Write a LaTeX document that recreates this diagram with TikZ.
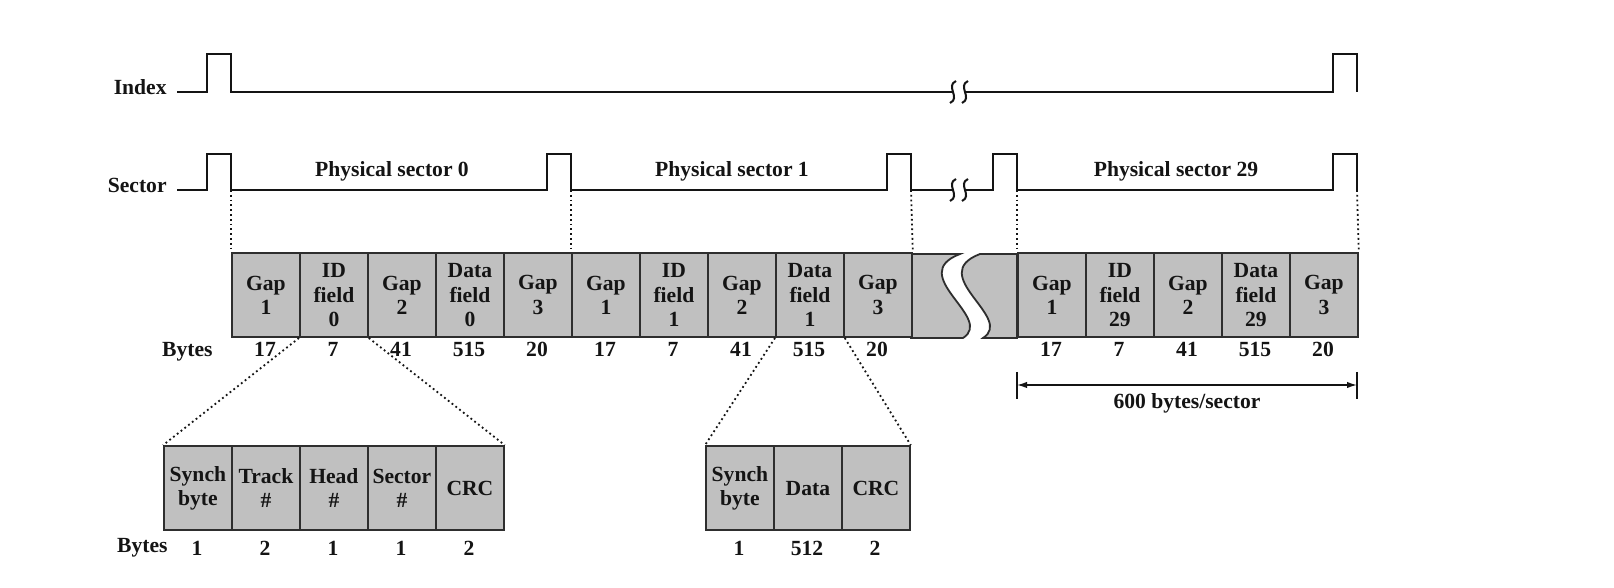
\documentclass[tikz,border=0pt]{standalone}
\usepackage{fontspec}
\setmainfont{Liberation Serif}
\usetikzlibrary{arrows.meta}
\definecolor{dkInk}{HTML}{141414}
\definecolor{dkCell}{HTML}{C0C0C0}
\definecolor{dkLine}{HTML}{2E2E2E}
\tikzset{
 diskfig/.style={font=\fontsize{10.8}{12.2}\selectfont\bfseries,line join=miter,text=dkInk},
 wave/.style={draw=dkInk,line width=1pt},
 squig/.style={draw=dkInk,line width=1pt},
 cellbox/.style={rectangle,draw=dkLine,fill=dkCell,line width=.9pt,inner sep=0pt,
   minimum width=34pt,minimum height=42pt,align=center,anchor=south west},
 breakpiece/.style={draw=dkLine,fill=dkCell,line width=.9pt},
 guide/.style={draw=dkInk,line width=.9pt,dash pattern=on .9pt off 1.5pt},
 bytenum/.style={anchor=base,inner sep=0pt},
 sigtag/.style={anchor=base east,inner sep=0pt},
 dimline/.style={draw=dkInk,line width=.7pt,{Latex[length=5pt,width=3.2pt]}-{Latex[length=5pt,width=3.2pt]}}
}
\newcommand{\squiggle}[2]{%
 \draw[squig] ({#1+3},{#2+11}) .. controls ({#1-8},{#2+6}) and ({#1+8},{#2-6}) .. ({#1-3},{#2-11});}

\begin{document}
\begin{tikzpicture}[diskfig,x=.5pt,y=.5pt]
 \useasboundingbox (0,0) rectangle (1614,588);
 \fill[white] (0,0) rectangle (1614,588);
 \node[sigtag] (idx) at (167,493) {Index};
 \node[sigtag] (sec) at (167,395) {Sector};
 \draw[wave] (177,496) -- (207,496) -- (207,534) -- (231,534) -- (231,496) -- (953,496);
 \draw[wave] (965,496) -- (1333,496) -- (1333,534) -- (1357,534) -- (1357,496);
 \squiggle{953}{496} \squiggle{965}{496}
 \draw[wave] (177,398) -- (207,398) -- (207,434) -- (231,434) -- (231,398)
   -- (547,398) -- (547,434) -- (571,434) -- (571,398)
   -- (887,398) -- (887,434) -- (911,434) -- (911,398) -- (953,398);
 \draw[wave] (965,398) -- (993,398) -- (993,434) -- (1017,434) -- (1017,398)
   -- (1333,398) -- (1333,434) -- (1357,434) -- (1357,398);
 \squiggle{953}{398} \squiggle{965}{398}
 \coordinate (e0) at (231,398); \coordinate (e1) at (571,398);
 \coordinate (e2) at (911,398); \coordinate (e3) at (1017,398);
 \coordinate (e4) at (1357,398);
 \node[anchor=base] (ps0) at (392,411) {Physical sector 0};
 \node[anchor=base] (ps1) at (732,411) {Physical sector 1};
 \node[anchor=base] (ps29) at (1176,411) {Physical sector 29};
 \filldraw[breakpiece] (911,334) -- (960,334) .. controls (905,313) and (995,270) .. (963,250) -- (911,250) -- cycle;
 \filldraw[breakpiece] (1017,334) -- (980,334) .. controls (925,313) and (1015,270) .. (983,250) -- (1017,250) -- cycle;
 \foreach \s/\xo in {0/231,1/571,29/1017} {
  \foreach \k/\txt/\by in {0/{Gap\\1}/17,1/{ID\\field\\\s}/7,2/{Gap\\2}/41,3/{Data\\field\\\s}/515,4/{Gap\\3}/20} {
   \node[cellbox] (c\s-\k) at ({\xo+68*\k},250) {\txt};
   \node[bytenum] (n\s-\k) at ({\xo+68*\k+34},231) {\by};
  }
 }
 \node[sigtag] (bytesA) at (213,231) {Bytes};
 \draw[guide] (e0) -- (c0-0.north west);
 \draw[guide] (e1) -- (c1-0.north west);
 \draw[guide] (e2) -- (c1-4.north east);
 \draw[guide] (e3) -- (c29-0.north west);
 \draw[guide] (e4) -- (c29-4.north east);
 \foreach \k/\txt/\by in {0/{Synch\\byte}/1,1/{Track\\\#}/2,2/{Head\\\#}/1,3/{Sector\\\#}/1,4/CRC/2} {
  \node[cellbox] (id\k) at ({163+68*\k},57) {\txt};
  \node[bytenum] (idn\k) at ({197+68*\k},32) {\by};
 }
 \foreach \k/\txt/\by in {0/{Synch\\byte}/1,1/Data/512,2/CRC/2} {
  \node[cellbox] (df\k) at ({705+68*\k},57) {\txt};
  \node[bytenum] (dfn\k) at ({739+68*\k},32) {\by};
 }
 \node[sigtag] (bytesB) at (168,35) {Bytes};
 \draw[guide] (c0-1.south west) -- (id0.north west);
 \draw[guide] (c0-1.south east) -- (id4.north east);
 \draw[guide] (c1-3.south west) -- (df0.north west);
 \draw[guide] (c1-3.south east) -- (df2.north east);
 \coordinate (dimL) at (1017,203); \coordinate (dimR) at (1357,203);
 \draw[dimline] (dimL) -- (dimR);
 \draw[wave,line width=.7pt] (1017,216) -- (1017,189);
 \draw[wave,line width=.7pt] (1357,216) -- (1357,189);
 \node[anchor=base] (dimtxt) at (1187,179) {600 bytes/sector};
\end{tikzpicture}
\end{document}
